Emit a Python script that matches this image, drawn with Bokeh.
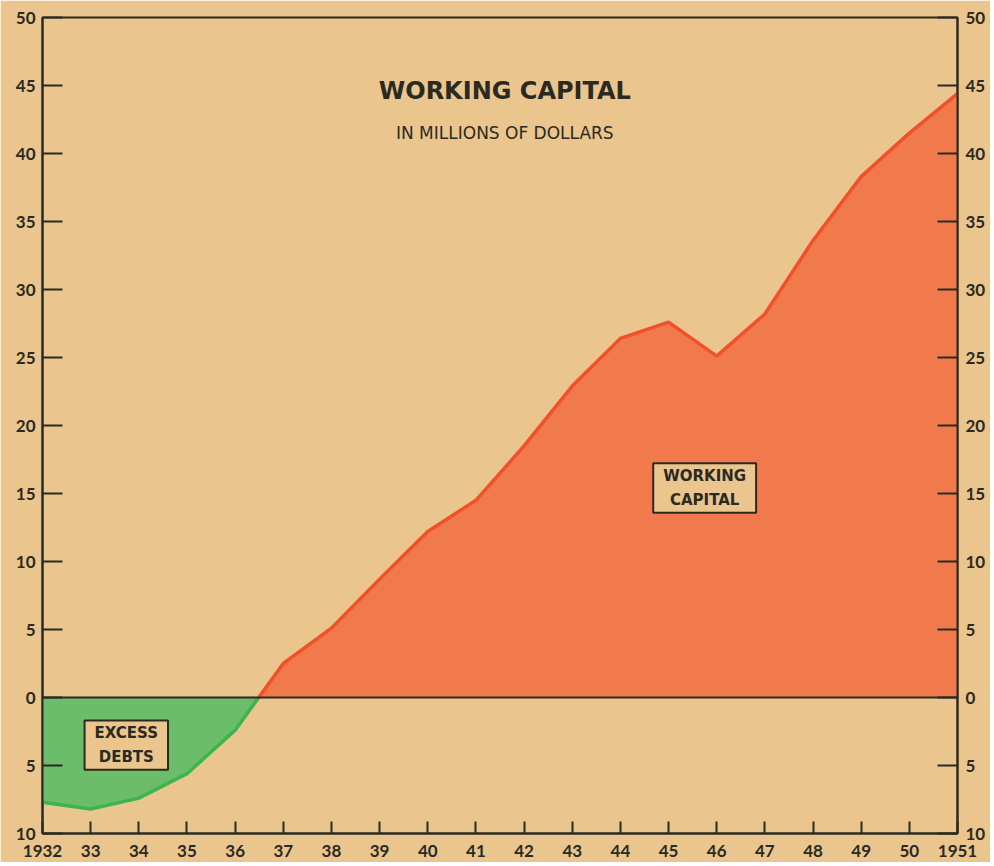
from bokeh.plotting import figure
from bokeh.models import FixedTicker, LinearAxis, Range1d, Span, Label
from bokeh.embed import file_html
from bokeh.resources import INLINE

# ---- data (millions of dollars) ----
years = [1932, 1933, 1934, 1935, 1936, 1937, 1938, 1939, 1940, 1941,
         1942, 1943, 1944, 1945, 1946, 1947, 1948, 1949, 1950, 1951]
working_capital = [-7.7, -8.2, -7.4, -5.6, -2.4, 2.5, 5.1, 8.7, 12.2, 14.5,
                   18.5, 22.9, 26.4, 27.6, 25.1, 28.2, 33.6, 38.3, 41.5, 44.4]

x_tick_labels = ["1932", "33", "34", "35", "36", "37", "38", "39", "40", "41",
                 "42", "43", "44", "45", "46", "47", "48", "49", "50", "1951"]
y_ticks = [-10, -5, 0, 5, 10, 15, 20, 25, 30, 35, 40, 45, 50]
y_tick_labels = ["10", "5", "0", "5", "10", "15", "20", "25", "30", "35", "40", "45", "50"]

title_text = "WORKING CAPITAL"
subtitle_text = "IN MILLIONS OF DOLLARS"
label_pos = "WORKING\nCAPITAL"
label_neg = "EXCESS\nDEBTS"

# ---- colours ----
BG = "#EAC58E"
INK = "#2A2A22"
RED_FILL = "#F07A4C"
RED_LINE = "#F2502A"
GREEN_FILL = "#6CBD6A"
GREEN_LINE = "#3DB452"
TICK_FONT = "Lato"
TEXT_FONT = "DejaVu Sans"

# split the series at its zero crossing
cross = None
idx = 0
for i in range(len(years) - 1):
    a, b = working_capital[i], working_capital[i + 1]
    if a < 0 <= b:
        cross = years[i] + (0 - a) / (b - a) * (years[i + 1] - years[i])
        idx = i
neg_x = years[:idx + 1] + [cross]
neg_y = working_capital[:idx + 1] + [0]
pos_x = [cross] + years[idx + 1:]
pos_y = [0] + working_capital[idx + 1:]

p = figure(width=990, height=862, output_backend="svg", toolbar_location=None,
           x_range=Range1d(1932, 1951), y_range=Range1d(-10, 50),
           min_border_left=42, min_border_right=33, min_border_top=17, min_border_bottom=29)
p.background_fill_color = BG
p.border_fill_color = BG
p.outline_line_color = INK
p.outline_line_width = 2
p.xgrid.visible = False
p.ygrid.visible = False

p.varea(x=neg_x, y1=[0] * len(neg_x), y2=neg_y, fill_color=GREEN_FILL)
p.varea(x=pos_x, y1=[0] * len(pos_x), y2=pos_y, fill_color=RED_FILL)
p.line(neg_x, neg_y, line_color=GREEN_LINE, line_width=3.5)
p.line(pos_x, pos_y, line_color=RED_LINE, line_width=3.5)
p.add_layout(Span(location=0, dimension="width", line_color=INK, line_width=2))

def style_axis(ax, tick_len):
    ax.axis_line_color = INK
    ax.axis_line_width = 2
    ax.major_tick_line_color = INK
    ax.major_tick_line_width = 2
    ax.major_tick_in = tick_len
    ax.major_tick_out = 0
    ax.minor_tick_line_color = None
    ax.major_label_text_font = TICK_FONT
    ax.major_label_text_font_style = "bold"
    ax.major_label_text_font_size = "17px"
    ax.major_label_text_color = INK

xa = p.xaxis[0]
xa.ticker = FixedTicker(ticks=years)
xa.major_label_overrides = {y: l for y, l in zip(years, x_tick_labels)}
xa.major_label_standoff = 11
style_axis(xa, 12)

ya = p.yaxis[0]
ya.ticker = FixedTicker(ticks=y_ticks)
ya.major_label_overrides = {t: l for t, l in zip(y_ticks, y_tick_labels)}
ya.major_label_standoff = 7
style_axis(ya, 20)

yr = LinearAxis(ticker=FixedTicker(ticks=y_ticks))
yr.major_label_overrides = {t: l for t, l in zip(y_ticks, y_tick_labels)}
yr.major_label_standoff = 8
style_axis(yr, 20)
p.add_layout(yr, "right")

p.add_layout(Label(x=1941.6, y=44.6, text=title_text, text_font=TEXT_FONT,
                   text_font_style="bold",
                   text_font_size="24px", text_color=INK, text_align="center",
                   text_baseline="middle"))
p.add_layout(Label(x=1941.6, y=41.5, text=subtitle_text, text_font=TEXT_FONT,
                   text_font_size="17px", text_color=INK, text_align="center",
                   text_baseline="middle"))

for x, y, t in [(1945.75, 15.4, label_pos), (1933.74, -3.5, label_neg)]:
    p.add_layout(Label(x=x, y=y, text=t, text_font=TEXT_FONT, text_font_style="bold",
                       text_font_size="15px", text_color=INK, text_align="center",
                       text_baseline="middle", text_line_height=1.3,
                       background_fill_color=BG, border_line_color=INK,
                       border_line_width=2,
                       padding=dict(left=10, right=10, top=4, bottom=4)))

open("out.html", "w").write(file_html(p, INLINE))
